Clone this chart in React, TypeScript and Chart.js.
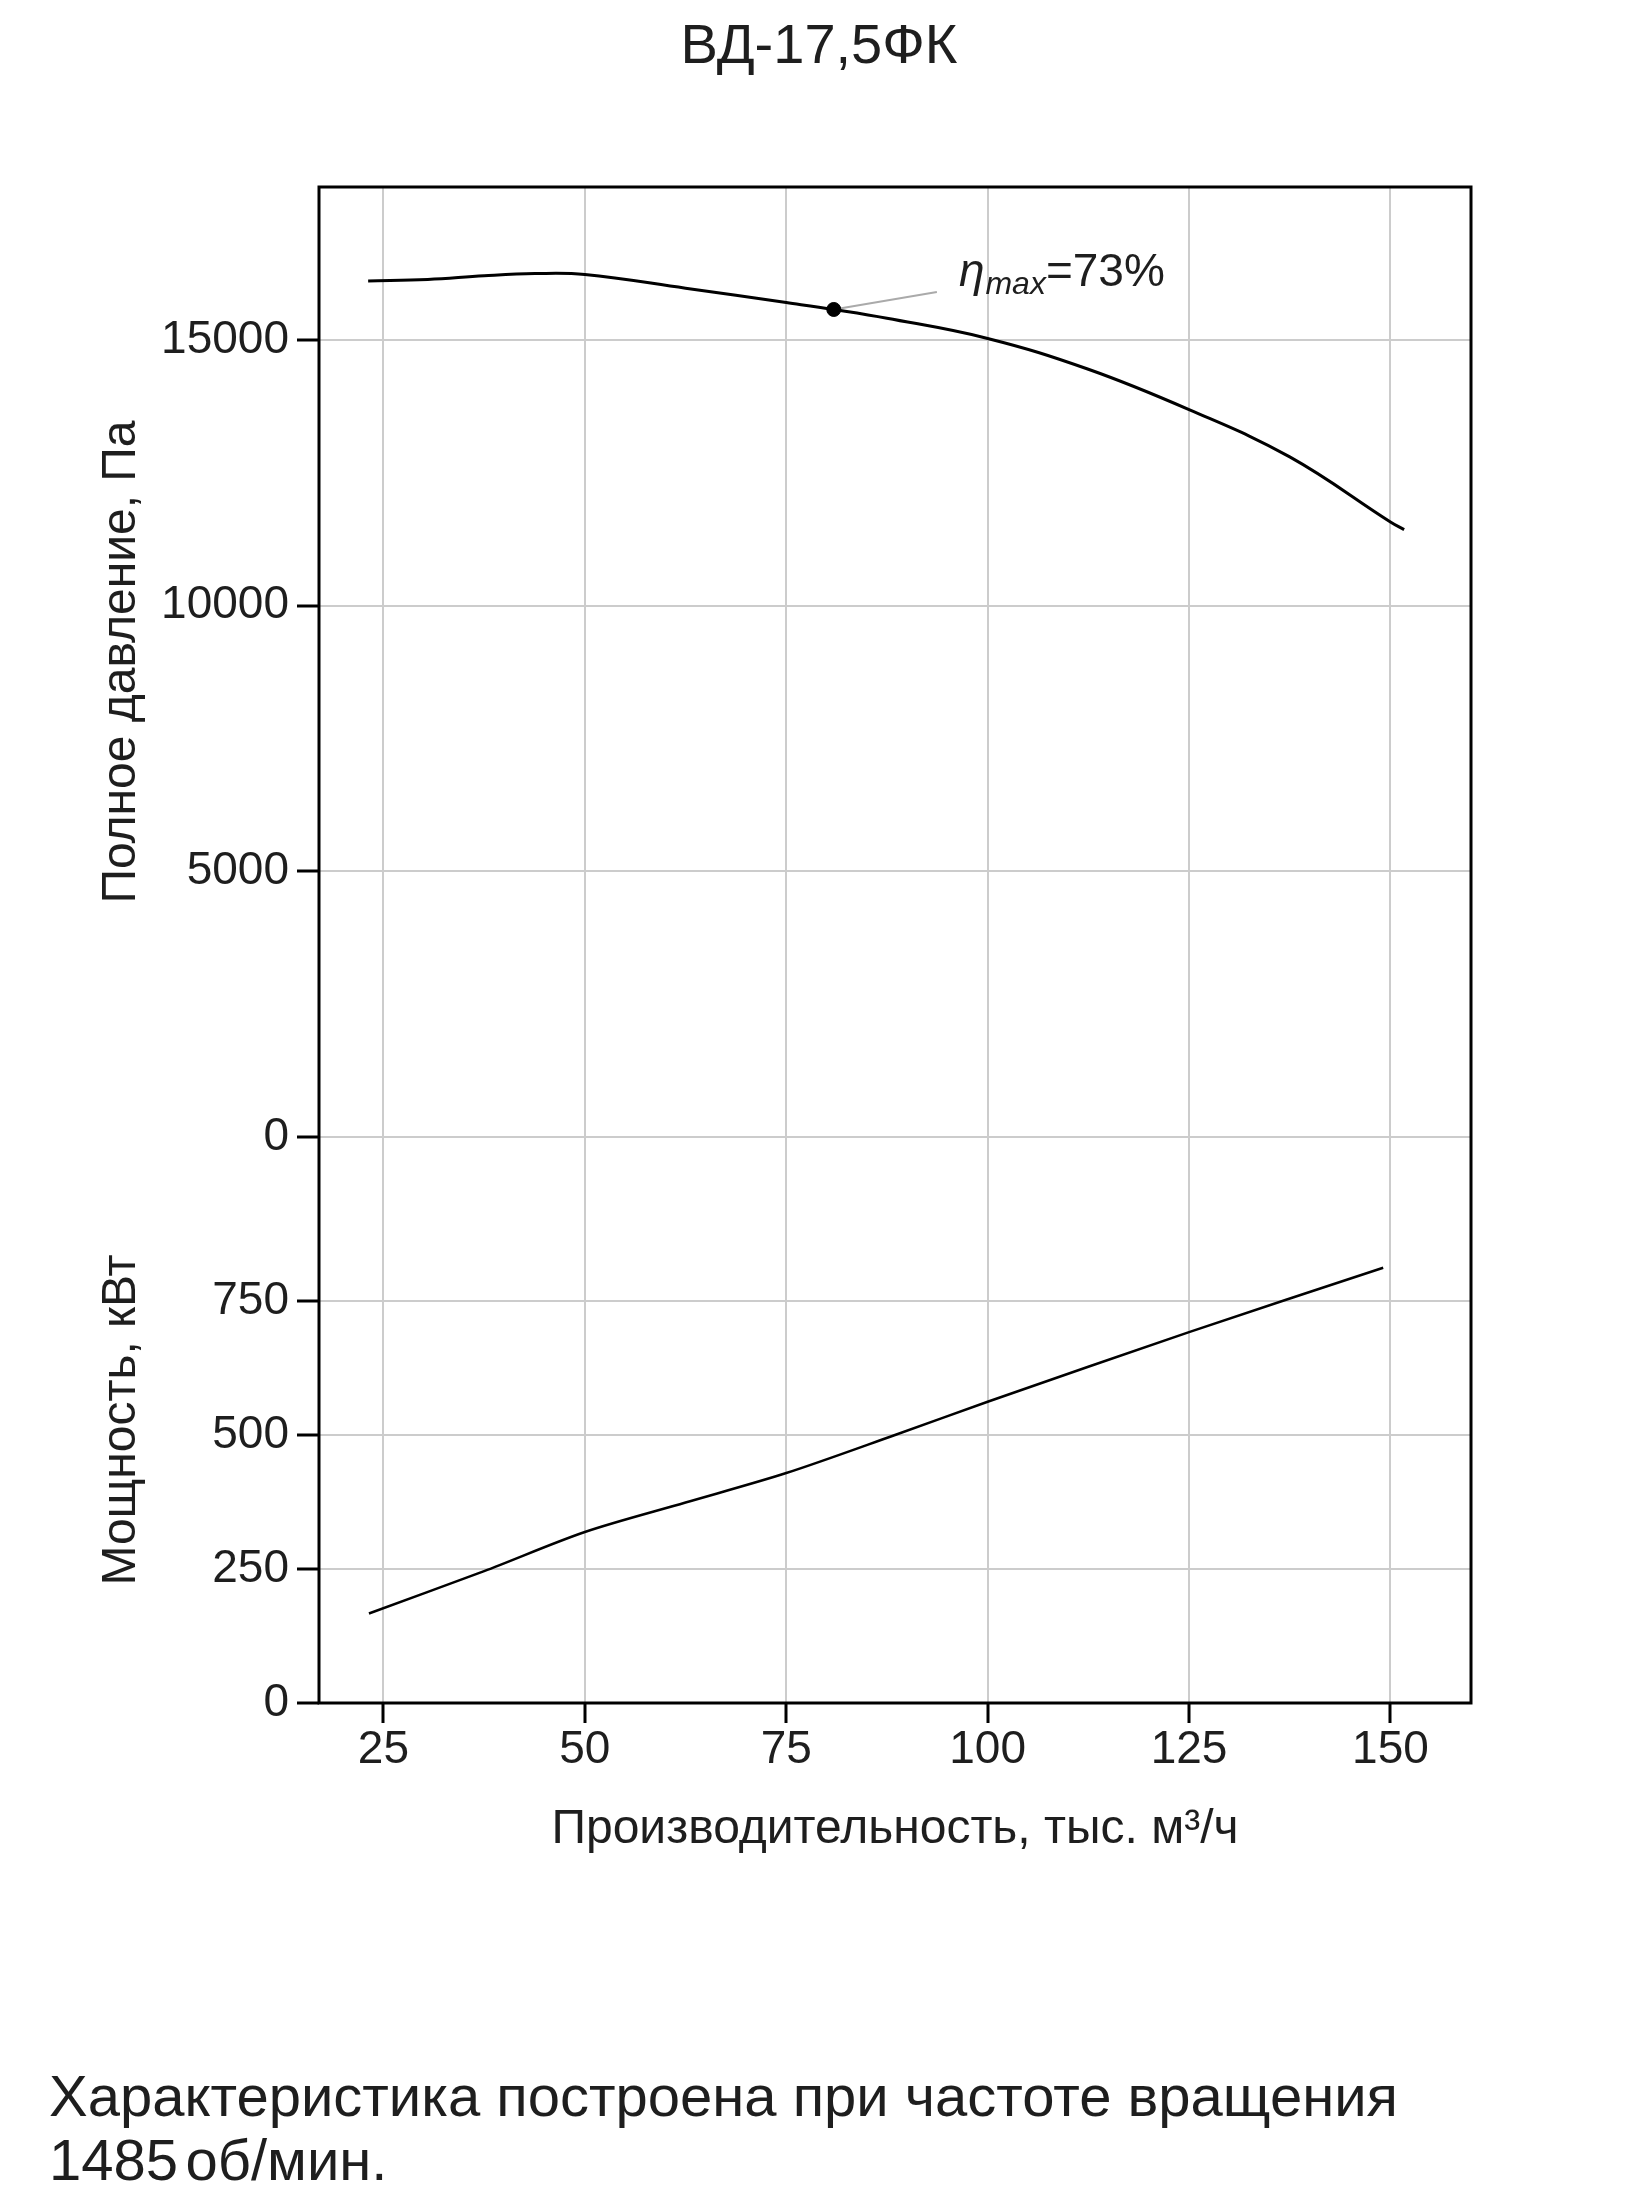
import React, { useEffect, useRef } from 'react';
import { Chart, registerables } from 'chart.js';

Chart.register(...registerables);

// ---- data ----
const flowPressure = [23.1, 30.5, 37.5, 43.8, 50, 62.5, 75, 80.9, 87.5, 100, 112.5, 125, 137.5, 150, 151.7];
const pressure = [16112, 16140, 16210, 16250, 16233, 15975, 15705, 15575, 15410, 15030, 14450, 13690, 12800, 11576, 11432];

const flowPower = [23.2, 37.5, 50, 62.5, 75, 88.5, 100, 125, 149.1];
const power = [167, 246, 319, 374, 429, 500, 562, 692, 812];

const xTicks = [25, 50, 75, 100, 125, 150];
const pressureTicks = [0, 5000, 10000, 15000];
const powerTicks = [0, 250, 500, 750];

const etaFlow = [80.9];
const etaPressure = [15575];
const leaderFlow = [80.9, 93.7];
const leaderPressure = [15575, 15905];

const title = 'ВД-17,5ФК';
const pressureLabel = 'Полное давление, Па';
const powerLabel = 'Мощность, кВт';
const flowLabel = 'Производительность, тыс. м³/ч';
const etaText = { symbol: 'η', sub: 'max', value: '=73%' };
const noteLine1 = 'Характеристика построена при частоте вращения';
const noteLine2 = '1485 об/мин.';

const FONT = '"Liberation Sans", Arial, sans-serif';
const TEXT = '#1e1e1e';
const GRID = '#cccccc';

const toPts = (xs: number[], ys: number[]) => xs.map((x, i) => ({ x, y: ys[i] }));

const framePlugin = {
  id: 'frameAndLabel',
  afterDatasetsDraw(chart: any) {
    const { ctx, chartArea } = chart;
    ctx.save();
    ctx.strokeStyle = '#000';
    ctx.lineWidth = 3;
    ctx.strokeRect(chartArea.left, chartArea.top, chartArea.right - chartArea.left, chartArea.bottom - chartArea.top);

    const xs = chart.scales.x;
    const ys = chart.scales.yH;
    const px = xs.getPixelForValue(leaderFlow[1]) + 22;
    const py = ys.getPixelForValue(leaderPressure[1]) - 6;
    ctx.fillStyle = TEXT;
    ctx.textAlign = 'left';
    ctx.textBaseline = 'alphabetic';
    ctx.font = `italic 46px ${FONT}`;
    ctx.fillText(etaText.symbol, px, py);
    let w = ctx.measureText(etaText.symbol).width;
    ctx.font = `italic 32px ${FONT}`;
    ctx.fillText(etaText.sub, px + w + 1, py + 8);
    w += ctx.measureText(etaText.sub).width + 1;
    ctx.font = `46px ${FONT}`;
    ctx.fillText(etaText.value, px + w, py);
    ctx.restore();
  },
};

export default function App() {
  const ref = useRef<HTMLCanvasElement | null>(null);

  useEffect(() => {
    if (!ref.current) return;
    const setTicks = (vals: number[]) => (axis: any) => {
      axis.ticks = vals.map((v) => ({ value: v }));
    };
    const plain = (v: any) => String(v);
    const chart = new Chart(ref.current, {
      type: 'scatter',
      data: {
        datasets: [
          {
            data: toPts(etaFlow, etaPressure),
            yAxisID: 'yH',
            pointRadius: 7,
            pointBackgroundColor: '#000',
            pointBorderColor: '#000',
            showLine: false,
          },
          {
            data: toPts(flowPressure, pressure),
            yAxisID: 'yH',
            showLine: true,
            borderColor: '#000',
            borderWidth: 3,
            pointRadius: 0,
            tension: 0.4,
          },
          {
            data: toPts(flowPower, power),
            yAxisID: 'yP',
            showLine: true,
            borderColor: '#000',
            borderWidth: 2.5,
            pointRadius: 0,
            tension: 0.3,
          },
          {
            data: toPts(leaderFlow, leaderPressure),
            yAxisID: 'yH',
            showLine: true,
            borderColor: '#aaaaaa',
            borderWidth: 2,
            pointRadius: 0,
          },
        ],
      },
      options: {
        animation: false,
        responsive: false,
        events: [],
        layout: { padding: { left: 93, right: 159, top: 187, bottom: 21 } },
        plugins: { legend: { display: false }, tooltip: { enabled: false }, title: { display: false } },
        scales: {
          x: {
            type: 'linear',
            min: 17,
            max: 160,
            afterBuildTicks: setTicks(xTicks),
            afterFit: (s: any) => { s.height = 156; },
            border: { display: false },
            grid: { color: GRID, lineWidth: 2, tickColor: '#000', tickLength: 20, tickWidth: 3 },
            ticks: { font: { family: FONT, size: 46 }, color: TEXT, padding: 0, maxRotation: 0, callback: plain },
            title: { display: true, text: flowLabel, font: { family: FONT, size: 48 }, color: TEXT, padding: 0 },
          },
          yP: {
            type: 'linear',
            position: 'left',
            stack: 'v',
            stackWeight: 566,
            min: 0,
            max: 1056,
            afterBuildTicks: setTicks(powerTicks),
            afterFit: (s: any) => { s.width = 226; },
            border: { display: false },
            grid: { color: GRID, lineWidth: 2, tickColor: '#000', tickLength: 22, tickWidth: 3 },
            ticks: { font: { family: FONT, size: 46 }, color: TEXT, padding: 8, callback: plain },
            title: { display: true, text: powerLabel, font: { family: FONT, size: 48 }, color: TEXT, padding: 0 },
          },
          yH: {
            type: 'linear',
            position: 'left',
            stack: 'v',
            stackWeight: 950,
            min: 0,
            max: 17880,
            afterBuildTicks: setTicks(pressureTicks),
            afterFit: (s: any) => { s.width = 226; },
            border: { display: false },
            grid: { color: GRID, lineWidth: 2, tickColor: '#000', tickLength: 22, tickWidth: 3 },
            ticks: { font: { family: FONT, size: 46 }, color: TEXT, padding: 8, callback: plain },
            title: { display: true, text: pressureLabel, font: { family: FONT, size: 48 }, color: TEXT, padding: 0 },
          },
        },
      } as any,
      plugins: [framePlugin],
    });
    return () => chart.destroy();
  }, []);

  return (
    <div style={{ position: 'absolute', left: 0, top: 0, width: 1630, height: 2192, overflow: 'hidden', background: '#fff', fontFamily: FONT, color: TEXT }}>
      <div style={{ position: 'absolute', left: 0, top: 16, width: 1638, textAlign: 'center', fontSize: 56, lineHeight: '56px' }}>{title}</div>
      <canvas ref={ref} width={1630} height={1880} style={{ position: 'absolute', left: 0, top: 0, display: 'block' }} />
      <div style={{ position: 'absolute', left: 49, top: 2064, fontSize: 58, lineHeight: '64px', whiteSpace: 'nowrap' }}>
        <div>{noteLine1}</div>
        <div style={{ wordSpacing: '-0.15em' }}>{noteLine2}</div>
      </div>
    </div>
  );
}
